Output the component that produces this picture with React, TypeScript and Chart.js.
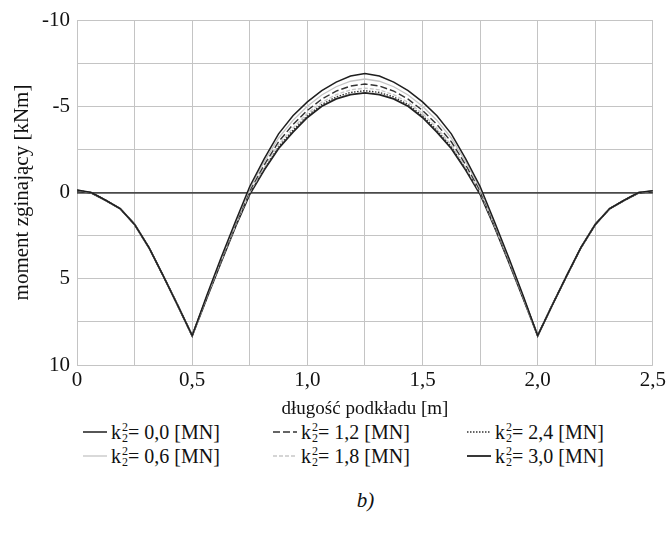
import React, { useEffect, useRef } from "react";
import { Chart, registerables } from "chart.js";

Chart.register(...registerables);

// długość podkładu [m]
const xValues = [
  0, 0.0625, 0.125, 0.1875, 0.25, 0.3125, 0.375, 0.4375, 0.5, 0.5625, 0.625, 0.6875, 0.75, 0.8125,
  0.875, 0.9375, 1.0, 1.0625, 1.125, 1.1875, 1.25, 1.3125, 1.375, 1.4375, 1.5, 1.5625, 1.625,
  1.6875, 1.75, 1.8125, 1.875, 1.9375, 2.0, 2.0625, 2.125, 2.1875, 2.25, 2.3125, 2.375, 2.4375, 2.5,
];

// moment zginający [kNm]
const k00 = [
  -0.15, 0.0, 0.45, 0.93, 1.85, 3.2, 4.85, 6.55, 8.3, 6.0, 3.8, 1.7, -0.35, -1.95, -3.4, -4.45, -5.25,
  -5.9, -6.4, -6.75, -6.9, -6.75, -6.4, -5.9, -5.25, -4.45, -3.4, -1.95, -0.35, 1.7, 3.8, 6.0, 8.3,
  6.55, 4.85, 3.2, 1.85, 0.93, 0.45, 0.0, -0.1,
];
const k06 = [
  -0.14, 0.0, 0.45, 0.93, 1.85, 3.2, 4.85, 6.55, 8.3, 6.04, 3.87, 1.78, -0.22, -1.77, -3.16, -4.18,
  -5.0, -5.65, -6.13, -6.45, -6.58, -6.45, -6.13, -5.65, -5.0, -4.18, -3.16, -1.77, -0.22, 1.78, 3.87,
  6.04, 8.3, 6.55, 4.85, 3.2, 1.85, 0.93, 0.45, 0.0, -0.1,
];
const k12 = [
  -0.13, 0.01, 0.45, 0.93, 1.85, 3.2, 4.85, 6.55, 8.3, 6.08, 3.94, 1.86, -0.11, -1.6, -2.94, -3.94,
  -4.76, -5.41, -5.88, -6.17, -6.29, -6.17, -5.88, -5.41, -4.76, -3.94, -2.94, -1.6, -0.11, 1.86, 3.94,
  6.08, 8.3, 6.55, 4.85, 3.2, 1.85, 0.93, 0.45, 0.01, -0.09,
];
const k18 = [
  -0.12, 0.01, 0.46, 0.93, 1.85, 3.2, 4.85, 6.55, 8.3, 6.11, 3.99, 1.93, -0.01, -1.46, -2.76, -3.74,
  -4.58, -5.23, -5.67, -5.95, -6.05, -5.95, -5.67, -5.23, -4.58, -3.74, -2.76, -1.46, -0.01, 1.93, 3.99,
  6.11, 8.3, 6.55, 4.85, 3.2, 1.85, 0.93, 0.46, 0.01, -0.08,
];
const k24 = [
  -0.11, 0.02, 0.46, 0.94, 1.85, 3.2, 4.85, 6.55, 8.3, 6.13, 4.02, 1.97, 0.05, -1.37, -2.65, -3.61,
  -4.45, -5.1, -5.54, -5.8, -5.9, -5.8, -5.54, -5.1, -4.45, -3.61, -2.65, -1.37, 0.05, 1.97, 4.02, 6.13,
  8.3, 6.55, 4.85, 3.2, 1.85, 0.94, 0.46, 0.02, -0.07,
];
const k30 = [
  -0.1, 0.02, 0.46, 0.94, 1.85, 3.2, 4.85, 6.55, 8.3, 6.15, 4.05, 2.0, 0.1, -1.3, -2.55, -3.5, -4.35,
  -5.0, -5.43, -5.68, -5.77, -5.68, -5.43, -5.0, -4.35, -3.5, -2.55, -1.3, 0.1, 2.0, 4.05, 6.15, 8.3,
  6.55, 4.85, 3.2, 1.85, 0.94, 0.46, 0.02, -0.06,
];

const seriesLabels = ["0,0", "0,6", "1,2", "1,8", "2,4", "3,0"];
const xTickLabelsAt = [0, 0.5, 1.0, 1.5, 2.0, 2.5];
const yTickLabelsAt = [-10, -5, 0, 5, 10];

const FONT = '"Liberation Serif", "Times New Roman", serif';

type Style = { color: string; width: number; dash: number[] };
const styles: Style[] = [
  { color: "#1e1e1e", width: 1.5, dash: [] },
  { color: "#c4c4c4", width: 1.3, dash: [] },
  { color: "#333333", width: 1.4, dash: [7, 3] },
  { color: "#c8c8c8", width: 1.3, dash: [4, 2] },
  { color: "#333333", width: 1.4, dash: [1.5, 1.5] },
  { color: "#222222", width: 1.8, dash: [] },
];

const allSeries = [k00, k06, k12, k18, k24, k30];

function fmt(v: number) {
  if (Math.abs(v) < 1e-9) return "0";
  return v.toFixed(1).replace(".", ",");
}

function LegendItem({ idx, left, top }: { idx: number; left: number; top: number }) {
  const s = styles[idx];
  return (
    <div
      style={{
        position: "absolute",
        left,
        top,
        height: 24,
        display: "flex",
        alignItems: "center",
        fontFamily: FONT,
        fontSize: 20,
        color: "#111",
        whiteSpace: "nowrap",
      }}
    >
      <svg width={26} height={10} style={{ marginRight: 3 }}>
        <line
          x1={1}
          y1={5}
          x2={25}
          y2={5}
          stroke={s.color}
          strokeWidth={s.width}
          strokeDasharray={s.dash.length ? s.dash.join(",") : undefined}
        />
      </svg>
      <span>k</span>
      <span
        style={{
          display: "inline-flex",
          flexDirection: "column",
          fontSize: 12,
          lineHeight: "11px",
          marginLeft: 1,
          marginTop: 2,
        }}
      >
        <span>2</span>
        <span>2</span>
      </span>
      <span>= {seriesLabels[idx]} [MN]</span>
    </div>
  );
}

export default function App() {
  const ref = useRef<HTMLCanvasElement | null>(null);

  useEffect(() => {
    if (!ref.current) return;
    const chart = new Chart(ref.current, {
      type: "line",
      data: {
        datasets: allSeries.map((ser, i) => ({
          label: "k2 = " + seriesLabels[i] + " [MN]",
          data: xValues.map((x, j) => ({ x, y: ser[j] })),
          borderColor: styles[i].color,
          borderWidth: styles[i].width,
          borderDash: styles[i].dash,
          pointRadius: 0,
          tension: 0,
          fill: false,
        })),
      },
      options: {
        responsive: false,
        devicePixelRatio: 1,
        animation: false,
        layout: { padding: { left: 10, right: 14, top: 20, bottom: 0 } },
        plugins: { legend: { display: false }, tooltip: { enabled: false } },
        scales: {
          x: {
            type: "linear",
            min: 0,
            max: 2.5,
            afterFit: (s: any) => {
              s.height = 55;
            },
            ticks: {
              stepSize: 0.25,
              autoSkip: false,
              maxRotation: 0,
              padding: 3,
              color: "#111",
              font: { family: FONT, size: 21 },
              callback: (v: any) => {
                const n = Number(v);
                return xTickLabelsAt.some((t) => Math.abs(t - n) < 1e-6) ? fmt(n) : "";
              },
            },
            grid: { color: "#c4c4c4", lineWidth: 1, drawTicks: false },
            border: { display: false },
            title: {
              display: true,
              text: "długość podkładu [m]",
              color: "#111",
              font: { family: FONT, size: 19 },
              padding: { top: 0, bottom: 0 },
            },
          },
          y: {
            type: "linear",
            min: -10,
            max: 10,
            reverse: true,
            afterFit: (s: any) => {
              s.width = 67;
            },
            ticks: {
              stepSize: 2.5,
              autoSkip: false,
              padding: 7,
              color: "#111",
              font: { family: FONT, size: 21 },
              callback: (v: any) => {
                const n = Number(v);
                return yTickLabelsAt.some((t) => Math.abs(t - n) < 1e-6) ? String(n) : "";
              },
            },
            grid: {
              drawTicks: false,
              color: (c: any) => (c.tick && Math.abs(c.tick.value) < 1e-9 ? "#4a4a4a" : "#c4c4c4"),
              lineWidth: (c: any) => (c.tick && Math.abs(c.tick.value) < 1e-9 ? 1.8 : 1),
            },
            border: { display: false },
            title: {
              display: true,
              text: "moment zginający [kNm]",
              color: "#111",
              font: { family: FONT, size: 21 },
              padding: 0,
            },
          },
        },
      },
    });
    return () => chart.destroy();
  }, []);

  return (
    <div style={{ position: "absolute", left: 0, top: 0, width: 669, height: 541, background: "#fff" }}>
      <canvas ref={ref} width={669} height={420} style={{ display: "block", width: 669, height: 420 }} />
      <LegendItem idx={0} left={82} top={420} />
      <LegendItem idx={2} left={272} top={420} />
      <LegendItem idx={4} left={466} top={420} />
      <LegendItem idx={1} left={82} top={444} />
      <LegendItem idx={3} left={272} top={444} />
      <LegendItem idx={5} left={466} top={444} />
      <div
        style={{
          position: "absolute",
          left: 0,
          width: 669,
          top: 488,
          textAlign: "center",
          fontFamily: FONT,
          fontStyle: "italic",
          fontSize: 21,
          color: "#111",
          paddingLeft: 62,
          boxSizing: "border-box",
        }}
      >
        b)
      </div>
    </div>
  );
}
